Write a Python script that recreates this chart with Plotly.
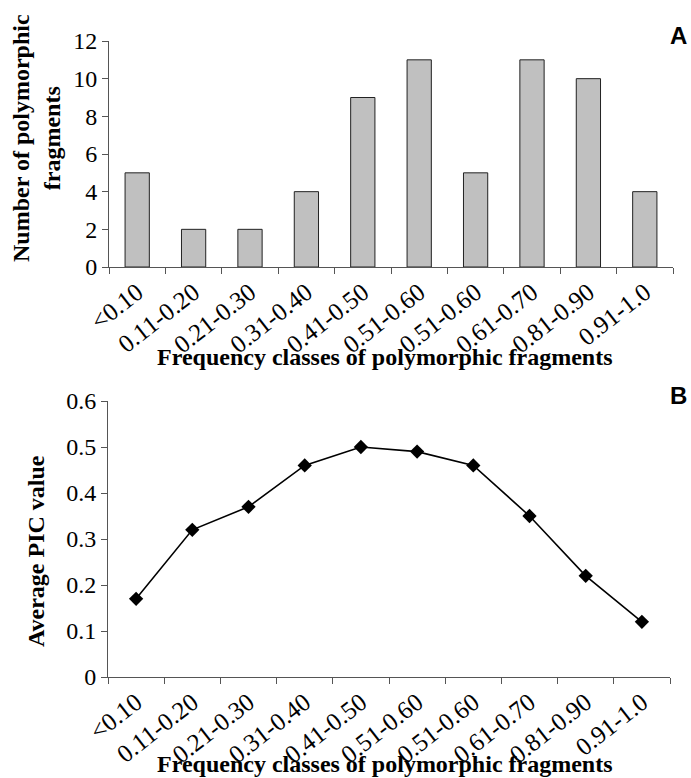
import plotly.graph_objects as go

classes = ["<0.10", "0.11-0.20", "0.21-0.30", "0.31-0.40", "0.41-0.50",
           "0.51-0.60", "0.51-0.60", "0.61-0.70", "0.81-0.90", "0.91-1.0"]
fragments = [5, 2, 2, 4, 9, 11, 5, 11, 10, 4]
pic = [0.17, 0.32, 0.37, 0.46, 0.50, 0.49, 0.46, 0.35, 0.22, 0.12]

W, H = 691, 778
pos = list(range(len(classes)))
bounds = [i - 0.5 for i in range(len(classes) + 1)]

serif = "Liberation Serif, Times New Roman, serif"
axis_col = "#555555"

fig = go.Figure()
fig.add_trace(go.Bar(x=pos, y=fragments, width=0.43,
                     marker=dict(color="#c0c0c0", line=dict(color="#222222", width=1)),
                     xaxis="x", yaxis="y", showlegend=False))
fig.add_trace(go.Scatter(x=pos, y=pic, mode="lines+markers",
                         line=dict(color="black", width=1.6),
                         marker=dict(symbol="diamond", size=11, color="black"),
                         xaxis="x2", yaxis="y2", showlegend=False))
fig.add_trace(go.Scatter(x=[0], y=[0], xaxis="x3", yaxis="y", mode="markers",
                         marker=dict(opacity=0), hoverinfo="skip", showlegend=False))
fig.add_trace(go.Scatter(x=[0], y=[0], xaxis="x4", yaxis="y2", mode="markers",
                         marker=dict(opacity=0), hoverinfo="skip", showlegend=False))

dx1 = [109 / W, 673 / W]
dy1 = [1 - 267 / H, 1 - 41 / H]
dx2 = [108 / W, 670 / W]
dy2 = [1 - 677 / H, 1 - 401 / H]

xtickfont = dict(family=serif, size=25, color="black")
ytickfont = dict(family=serif, size=24, color="black")

def xax(domain, anchor):
    return dict(domain=domain, anchor=anchor, range=[-0.5, 9.5], automargin=False,
                tickmode="array", tickvals=pos, ticktext=classes,
                tickangle=-38, ticks="", showline=True, linecolor=axis_col,
                linewidth=1, showgrid=False, zeroline=False, tickfont=xtickfont)

def xbound(domain, anchor, overlay):
    return dict(domain=domain, anchor=anchor, overlaying=overlay, range=[-0.5, 9.5],
                automargin=False,
                tickmode="array", tickvals=bounds, ticktext=[""] * len(bounds),
                ticks="outside", ticklen=6, tickcolor=axis_col, showline=False,
                showgrid=False, zeroline=False, side="bottom")

def yax(domain, anchor, rng, vals, txt):
    return dict(domain=domain, anchor=anchor, range=rng, automargin=False,
                tickmode="array", tickvals=vals, ticktext=txt,
                ticks="outside", ticklen=6, tickcolor=axis_col, showline=True,
                linecolor=axis_col, linewidth=1, showgrid=False, zeroline=False,
                tickfont=ytickfont)

fig.update_layout(
    width=W, height=H, margin=dict(l=0, r=0, t=0, b=0, autoexpand=False),
    paper_bgcolor="white", plot_bgcolor="white",
    xaxis=xax(dx1, "y"),
    xaxis3=xbound(dx1, "y", "x"),
    yaxis=yax(dy1, "x", [0, 12], [0, 2, 4, 6, 8, 10, 12],
              ["0", "2", "4", "6", "8", "10", "12"]),
    xaxis2=xax(dx2, "y2"),
    xaxis4=xbound(dx2, "y2", "x2"),
    yaxis2=yax(dy2, "x2", [0, 0.6], [0, 0.1, 0.2, 0.3, 0.4, 0.5, 0.6],
               ["0", "0.1", "0.2", "0.3", "0.4", "0.5", "0.6"]),
)

titlefont = dict(family=serif, size=24, color="black")
ann = [
    dict(text="<b>Frequency classes of polymorphic fragments</b>", x=385 / W, y=1 - 357 / H,
         font=titlefont),
    dict(text="<b>Frequency classes of polymorphic fragments</b>", x=385 / W, y=1 - 764 / H,
         font=titlefont),
    dict(text="<b>Number of polymorphic<br>fragments</b>", x=37 / W, y=1 - 138 / H,
         textangle=-90, font=titlefont),
    dict(text="<b>Average PIC value</b>", x=36 / W, y=1 - 551 / H,
         textangle=-90, font=titlefont),
    dict(text="<b>A</b>", x=689 / W, y=1 - 35 / H, xanchor="right",
         font=dict(family="Liberation Sans, Arial, sans-serif", size=24, color="black")),
    dict(text="<b>B</b>", x=689 / W, y=1 - 395 / H, xanchor="right",
         font=dict(family="Liberation Sans, Arial, sans-serif", size=24, color="black")),
]
for a in ann:
    a.setdefault("xanchor", "center")
    a.update(xref="paper", yref="paper", showarrow=False, yanchor="middle")
fig.update_layout(annotations=ann)

fig.write_html("out.html", config={"displayModeBar": False},
               post_script="document.body.style.margin='0';document.body.style.overflow='hidden';")
